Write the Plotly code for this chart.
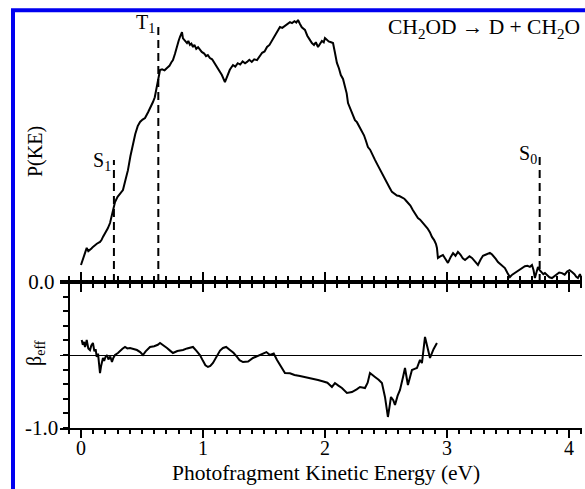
import plotly.graph_objects as go

# ---------------- data ----------------
ke_top = [0.000, 0.010, 0.019, 0.030, 0.047, 0.060, 0.074, 0.086, 0.098, 0.115, 0.130, 0.156, 0.168,
          0.180, 0.200, 0.220, 0.238, 0.258, 0.279, 0.300, 0.322, 0.344, 0.365, 0.385, 0.405, 0.426,
          0.445, 0.465, 0.484, 0.505, 0.525, 0.550, 0.570, 0.590, 0.605, 0.623, 0.635, 0.648, 0.665,
          0.685, 0.705, 0.725, 0.740, 0.754, 0.770, 0.785, 0.800, 0.811, 0.820, 0.828, 0.836, 0.845,
          0.855, 0.869, 0.880, 0.893, 0.905, 0.918, 0.930, 0.945, 0.960, 0.975, 0.990, 1.010, 1.025,
          1.040, 1.057, 1.075, 1.095, 1.115, 1.135, 1.155, 1.180, 1.200, 1.220, 1.246, 1.265, 1.285,
          1.305, 1.325, 1.345, 1.361, 1.380, 1.400, 1.420, 1.443, 1.465, 1.485, 1.505, 1.525, 1.545,
          1.565, 1.585, 1.607, 1.620, 1.631, 1.650, 1.670, 1.690, 1.713, 1.730, 1.750, 1.765, 1.779,
          1.795, 1.810, 1.836, 1.855, 1.875, 1.893, 1.910, 1.925, 1.943, 1.960, 1.975, 1.990, 2.000,
          2.015, 2.030, 2.050, 2.066, 2.080, 2.098, 2.115, 2.130, 2.148, 2.164, 2.178, 2.189, 2.205,
          2.220, 2.234, 2.246, 2.262, 2.280, 2.303, 2.320, 2.335, 2.352, 2.370, 2.390, 2.410, 2.430,
          2.450, 2.470, 2.492, 2.510, 2.530, 2.549, 2.570, 2.590, 2.610, 2.631, 2.650, 2.665, 2.680,
          2.700, 2.720, 2.740, 2.762, 2.780, 2.800, 2.820, 2.840, 2.860, 2.877, 2.895, 2.910, 2.918,
          2.926, 2.945, 2.967, 2.985, 3.008, 3.030, 3.050, 3.070, 3.090, 3.110, 3.130, 3.148, 3.165,
          3.185, 3.205, 3.225, 3.240, 3.254, 3.275, 3.295, 3.311, 3.330, 3.352, 3.370, 3.385, 3.400,
          3.418, 3.440, 3.460, 3.475, 3.495, 3.516, 3.535, 3.555, 3.582, 3.600, 3.620, 3.639, 3.660,
          3.680, 3.697, 3.710, 3.721, 3.735, 3.746, 3.760, 3.775, 3.790, 3.803, 3.820, 3.840, 3.861,
          3.880, 3.900, 3.920, 3.943, 3.965, 3.985, 4.005, 4.025, 4.045, 4.060, 4.074, 4.090, 4.105]
p_top = [0.065, 0.080, 0.092, 0.110, 0.130, 0.118, 0.122, 0.128, 0.134, 0.141, 0.146, 0.153, 0.160,
         0.172, 0.188, 0.205, 0.225, 0.262, 0.305, 0.325, 0.340, 0.351, 0.390, 0.427, 0.480, 0.531,
         0.565, 0.595, 0.611, 0.620, 0.626, 0.648, 0.665, 0.687, 0.705, 0.744, 0.780, 0.809, 0.812,
         0.808, 0.817, 0.825, 0.838, 0.847, 0.870, 0.900, 0.920, 0.935, 0.945, 0.954, 0.930, 0.925,
         0.918, 0.912, 0.920, 0.905, 0.910, 0.897, 0.905, 0.890, 0.896, 0.885, 0.878, 0.872, 0.862,
         0.866, 0.855, 0.850, 0.836, 0.821, 0.805, 0.790, 0.763, 0.785, 0.810, 0.828, 0.822, 0.835,
         0.830, 0.842, 0.835, 0.840, 0.848, 0.840, 0.850, 0.847, 0.862, 0.875, 0.880, 0.897, 0.905,
         0.920, 0.935, 0.950, 0.962, 0.973, 0.970, 0.978, 0.985, 0.992, 0.988, 0.995, 0.990, 1.000,
         0.985, 0.972, 0.962, 0.940, 0.925, 0.912, 0.905, 0.915, 0.897, 0.910, 0.920, 0.915, 0.931,
         0.925, 0.918, 0.915, 0.912, 0.880, 0.836, 0.815, 0.790, 0.775, 0.744, 0.720, 0.683, 0.665,
         0.650, 0.635, 0.618, 0.610, 0.595, 0.580, 0.560, 0.540, 0.515, 0.505, 0.488, 0.466, 0.448,
         0.430, 0.410, 0.389, 0.375, 0.360, 0.344, 0.338, 0.330, 0.328, 0.324, 0.318, 0.310, 0.302,
         0.292, 0.275, 0.262, 0.244, 0.238, 0.228, 0.218, 0.205, 0.190, 0.172, 0.160, 0.145, 0.130,
         0.092, 0.098, 0.103, 0.090, 0.073, 0.095, 0.110, 0.100, 0.115, 0.105, 0.090, 0.084, 0.092,
         0.098, 0.092, 0.080, 0.072, 0.065, 0.085, 0.100, 0.103, 0.108, 0.111, 0.105, 0.098, 0.088,
         0.076, 0.068, 0.058, 0.053, 0.035, 0.019, 0.028, 0.034, 0.040, 0.048, 0.053, 0.060, 0.062,
         0.058, 0.065, 0.045, 0.015, 0.040, 0.057, 0.045, 0.038, 0.030, 0.034, 0.025, 0.018, 0.015,
         0.022, 0.030, 0.036, 0.034, 0.028, 0.040, 0.045, 0.038, 0.030, 0.020, 0.015, 0.030, 0.010]

ke_beta = [0.006, 0.015, 0.025, 0.033, 0.040, 0.047, 0.060, 0.074, 0.085, 0.098, 0.110, 0.120, 0.129,
           0.140, 0.148, 0.156, 0.165, 0.180, 0.190, 0.200, 0.213, 0.225, 0.240, 0.254, 0.265, 0.279,
           0.303, 0.320, 0.340, 0.361, 0.380, 0.402, 0.430, 0.459, 0.485, 0.508, 0.530, 0.566, 0.600,
           0.630, 0.648, 0.670, 0.705, 0.730, 0.754, 0.790, 0.836, 0.870, 0.900, 0.918, 0.945, 0.975,
           1.000, 1.020, 1.041, 1.060, 1.082, 1.110, 1.140, 1.164, 1.190, 1.221, 1.250, 1.279, 1.300,
           1.328, 1.370, 1.410, 1.450, 1.492, 1.520, 1.549, 1.580, 1.607, 1.630, 1.648, 1.672, 1.713,
           1.750, 1.795, 1.830, 1.870, 1.910, 1.943, 1.980, 2.020, 2.057, 2.082, 2.110, 2.139, 2.180,
           2.221, 2.260, 2.287, 2.328, 2.350, 2.369, 2.390, 2.410, 2.440, 2.467, 2.492, 2.505, 2.516,
           2.530, 2.541, 2.560, 2.574, 2.595, 2.615, 2.640, 2.656, 2.680, 2.700, 2.713, 2.735, 2.754,
           2.779, 2.795, 2.820, 2.840, 2.861, 2.890, 2.918]
beta = [0.205, 0.140, 0.180, 0.110, 0.150, 0.205, 0.090, 0.068, 0.130, 0.164, 0.050, 0.080, -0.027,
        0.020, -0.120, -0.247, -0.150, -0.041, -0.080, -0.030, 0.000, -0.060, -0.020, -0.096, -0.040,
        0.000, 0.027, 0.060, 0.085, 0.110, 0.090, 0.096, 0.080, 0.068, 0.040, 0.000, 0.050, 0.110,
        0.120, 0.140, 0.164, 0.140, 0.096, 0.060, 0.027, 0.055, 0.068, 0.090, 0.100, 0.110, 0.060,
        0.000, -0.080, -0.140, -0.164, -0.150, -0.110, -0.020, 0.060, 0.096, 0.110, 0.068, 0.030,
        -0.027, -0.070, -0.096, -0.090, -0.041, -0.010, 0.027, 0.040, 0.000, 0.020, -0.068, -0.130,
        -0.178, -0.247, -0.250, -0.274, -0.288, -0.300, -0.315, -0.325, -0.342, -0.360, -0.380, -0.438,
        -0.384, -0.420, -0.452, -0.521, -0.507, -0.470, -0.438, -0.452, -0.380, -0.247, -0.270, -0.301,
        -0.340, -0.384, -0.575, -0.700, -0.849, -0.700, -0.575, -0.620, -0.685, -0.560, -0.479, -0.300,
        -0.178, -0.411, -0.300, -0.205, -0.190, -0.178, -0.068, -0.110, 0.247, 0.100, -0.041, 0.080,
        0.164]

thr_names = ["S<sub>1</sub>", "T<sub>1</sub>", "S<sub>0</sub>"]
thr_ke = [0.27, 0.634, 3.76]
thr_top = [0.466, 0.992, 0.492]

x_ticks = [0, 1, 2, 3, 4]
beta_ticks = [-1.0, -0.8, -0.6, -0.4, -0.2, 0.0, 0.2, 0.4, 0.6, 0.8, 1.0]

# ---------------- figure ----------------
FONT = "'Liberation Serif', 'Times New Roman', Times, serif"
W, H = 585, 489
ML, MR, MT, MB = 60, 3, 10, 61
PW = W - ML - MR
PH = H - MT - MB


def px_x(px):
    return (px - ML) / PW


def px_y(py):
    return (H - MB - py) / PH


split = px_y(282)

fig = go.Figure()

fig.add_trace(go.Scatter(x=ke_top, y=p_top, mode="lines", xaxis="x2", yaxis="y2",
                         line=dict(color="black", width=2), showlegend=False))
fig.add_trace(go.Scatter(x=ke_beta, y=beta, mode="lines", xaxis="x", yaxis="y",
                         line=dict(color="black", width=2), showlegend=False))

for name, k, top in zip(thr_names, thr_ke, thr_top):
    fig.add_trace(go.Scatter(x=[k, k], y=[0, top], mode="lines", xaxis="x2", yaxis="y2",
                             line=dict(color="black", width=2, dash="8px,5px"),
                             showlegend=False))
    fig.add_annotation(x=k, y=top - 0.005, xref="x2", yref="y2", text=name, showarrow=False,
                       xanchor="right", yanchor="middle", xshift=-1,
                       font=dict(family=FONT, size=20, color="black"))

xr = [-0.172, 4.107]
axis_common = dict(range=xr, showline=True, linecolor="black", linewidth=2,
                   ticks="outside", ticklen=8, tickwidth=2, tickcolor="black",
                   tickvals=x_ticks, showgrid=False, zeroline=False,
                   minor=dict(ticks="outside", ticklen=4, tickwidth=1.5, tickcolor="black",
                              dtick=0.1, tick0=0, showgrid=False))

fig.update_layout(
    width=W, height=H,
    margin=dict(l=ML, r=MR, t=MT, b=MB),
    paper_bgcolor="white", plot_bgcolor="white",
    font=dict(family=FONT, size=19, color="black"),
    xaxis=dict(domain=[0, 1], anchor="y", mirror="ticks", showticklabels=True,
               ticktext=[str(v) for v in x_ticks], ticklabelstandoff=-7,
               tickfont=dict(family=FONT, size=20), **axis_common),
    xaxis2=dict(domain=[0, 1], anchor="y2", matches="x", showticklabels=False, **axis_common),
    yaxis=dict(domain=[0, split], range=[-1, 1], anchor="free", position=px_x(68.5),
               showline=True, linecolor="black", linewidth=2,
               ticks="outside", ticklen=5, tickwidth=2, tickcolor="black",
               tickvals=beta_ticks, ticktext=["-1.0"] + [""] * (len(beta_ticks) - 1),
               tickfont=dict(family=FONT, size=21),
               showgrid=False, zeroline=True, zerolinecolor="black", zerolinewidth=1),
    yaxis2=dict(domain=[split, 1], range=[0, (282 - 10) / 262], anchor="free",
                position=px_x(68.5), showline=False, ticks="",
                tickvals=[0], ticktext=["0.0"], ticklabelstandoff=14,
                tickfont=dict(family=FONT, size=21),
                showgrid=False, zeroline=False),
)

# axis titles and header as text annotations
fig.add_annotation(x=px_x(35), y=px_y(152), xref="paper", yref="paper", text="P(KE)",
                   textangle=-90, showarrow=False, xanchor="center", yanchor="middle",
                   font=dict(family=FONT, size=20, color="black"))
fig.add_annotation(x=px_x(35), y=px_y(353), xref="paper", yref="paper", text="β<sub>eff</sub>",
                   textangle=-90, showarrow=False, xanchor="center", yanchor="middle",
                   font=dict(family=FONT, size=20, color="black"))
fig.add_annotation(x=px_x(326), y=px_y(473), xref="paper", yref="paper",
                   text="Photofragment Kinetic Energy (eV)", showarrow=False,
                   xanchor="center", yanchor="middle",
                   font=dict(family=FONT, size=21.5, color="black"))
fig.add_annotation(x=px_x(582), y=px_y(28), xref="paper", yref="paper",
                   text="CH<sub>2</sub>OD → D + CH<sub>2</sub>O", showarrow=False,
                   xanchor="right", yanchor="middle",
                   font=dict(family=FONT, size=21.5, color="black"))

# blue frame (left and top edges visible)
fig.add_shape(type="rect", xref="paper", yref="paper",
              x0=px_x(13), x1=px_x(640), y0=px_y(560), y1=px_y(10.3),
              line=dict(color="#0000f0", width=4), fillcolor="rgba(0,0,0,0)", layer="above")

fig.write_html("out.html")
